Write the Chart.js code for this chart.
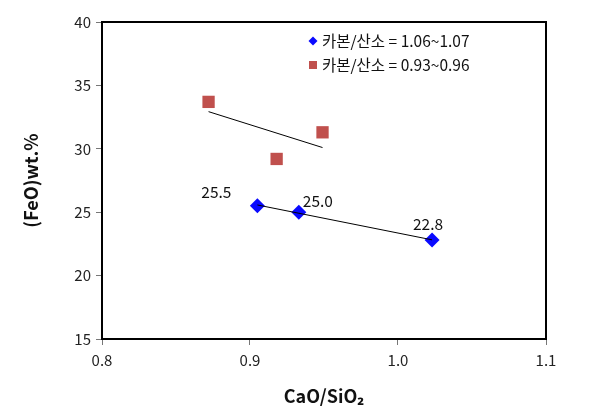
<!DOCTYPE html>
<html>
<head>
<meta charset="utf-8">
<script src="https://cdn.jsdelivr.net/npm/chart.js@4"></script>
<style>
  html, body { margin: 0; padding: 0; background: #fff; }
  #wrap { width: 605px; height: 409px; }
</style>
</head>
<body>
<div id="wrap"><canvas id="chart"></canvas></div>
<script>
// values
const seriesNames = ['카본/산소 = 1.06~1.07', '카본/산소 = 0.93~0.96'];
const blueX = [0.905, 0.933, 1.023];
const blueY = [25.5, 25.0, 22.8];
const redX = [0.872, 0.918, 0.949];
const redY = [33.7, 29.2, 31.3];
// linear trend lines (end points as drawn in the reference)
const blueTrendX = [0.905, 1.023];
const blueTrendY = [25.57, 22.82];
const redTrendX = [0.872, 0.949];
const redTrendY = [32.93, 30.10];
const xTicks = [0.8, 0.9, 1.0, 1.1];
const yTicks = [15, 20, 25, 30, 35, 40];

// label offsets (px) for the blue series values
const labelOffsets = [[-41, -14], [19, -11], [-4, -16]];

const FONT = '"Noto Sans CJK KR", "Noto Sans", sans-serif';
const BLUE = '#0a0aff';
const RED = '#c0504d';

const toPoints = (xs, ys) => xs.map((x, i) => ({ x: x, y: ys[i] }));

// black frame round the plot area
const framePlugin = {
    id: 'frame',
    afterDatasetsDraw(chart) {
        const a = chart.chartArea;
        const ctx = chart.ctx;
        ctx.save();
        ctx.strokeStyle = '#000';
        ctx.lineWidth = 2;
        ctx.strokeRect(a.left, a.top, a.right - a.left, a.bottom - a.top);
        ctx.restore();
    }
};

// value labels on the blue series
const valueLabels = {
    id: 'valueLabels',
    afterDatasetsDraw(chart) {
        const meta = chart.getDatasetMeta(2);
        const ctx = chart.ctx;
        ctx.save();
        ctx.font = '15.5px ' + FONT;
        ctx.fillStyle = '#111';
        ctx.textAlign = 'center';
        ctx.textBaseline = 'middle';
        meta.data.forEach(function(pt, i) {
            const off = labelOffsets[i];
            ctx.fillText(blueY[i].toFixed(1), pt.x + off[0], pt.y + off[1]);
        });
        ctx.restore();
    }
};

// legend drawn inside the plot area
const innerLegend = {
    id: 'innerLegend',
    afterDraw(chart) {
        const a = chart.chartArea;
        const ctx = chart.ctx;
        const mx = a.left + 211;
        const rows = [a.top + 19, a.top + 43];
        ctx.save();
        // diamond
        ctx.fillStyle = BLUE;
        ctx.beginPath();
        ctx.moveTo(mx, rows[0] - 4.5);
        ctx.lineTo(mx + 4.5, rows[0]);
        ctx.lineTo(mx, rows[0] + 4.5);
        ctx.lineTo(mx - 4.5, rows[0]);
        ctx.closePath();
        ctx.fill();
        // square
        ctx.fillStyle = RED;
        ctx.fillRect(mx - 4, rows[1] - 4, 8, 8);
        ctx.font = '15.5px ' + FONT;
        ctx.fillStyle = '#111';
        ctx.textBaseline = 'middle';
        ctx.fillText(seriesNames[0], mx + 9, rows[0]);
        ctx.fillText(seriesNames[1], mx + 9, rows[1]);
        ctx.restore();
    }
};

const tickFont = { family: FONT, size: 15 };
const titleFont = { family: FONT, size: 18, weight: 'bold' };

new Chart(document.getElementById('chart'), {
    type: 'scatter',
    data: {
        datasets: [
            {
                type: 'line',
                data: toPoints(blueTrendX, blueTrendY),
                borderColor: '#000',
                borderWidth: 1,
                pointRadius: 0,
                fill: false
            },
            {
                type: 'line',
                data: toPoints(redTrendX, redTrendY),
                borderColor: '#000',
                borderWidth: 1,
                pointRadius: 0,
                fill: false
            },
            {
                label: seriesNames[0],
                data: toPoints(blueX, blueY),
                pointStyle: 'rectRot',
                pointRadius: 7.5,
                backgroundColor: BLUE,
                borderColor: BLUE,
                borderWidth: 0
            },
            {
                label: seriesNames[1],
                data: toPoints(redX, redY),
                pointStyle: 'rect',
                pointRadius: 8.7,
                backgroundColor: RED,
                borderColor: RED,
                borderWidth: 0
            }
        ]
    },
    options: {
        responsive: true,
        maintainAspectRatio: false,
        animation: false,
        layout: {
            padding: { left: 20, right: 59, top: 22, bottom: 2 }
        },
        plugins: {
            legend: { display: false },
            tooltip: { enabled: false }
        },
        scales: {
            x: {
                type: 'linear',
                min: 0.8,
                max: 1.1,
                afterBuildTicks: function(scale) {
                    scale.ticks = xTicks.map(v => ({ value: v }));
                },
                afterFit: function(scale) {
                    scale.height = 68;
                },
                border: { display: false },
                grid: {
                    drawOnChartArea: false,
                    color: '#777',
                    tickLength: 6
                },
                ticks: {
                    font: tickFont,
                    color: '#222',
                    padding: 6,
                    callback: v => Number(v).toFixed(1)
                },
                title: {
                    display: true,
                    text: 'CaO/SiO₂',
                    font: titleFont,
                    color: '#111',
                    padding: { top: 0, bottom: 0 }
                }
            },
            y: {
                min: 15,
                max: 40,
                afterBuildTicks: function(scale) {
                    scale.ticks = yTicks.map(v => ({ value: v }));
                },
                afterFit: function(scale) {
                    scale.width = 82;
                },
                border: { display: false },
                grid: {
                    drawOnChartArea: false,
                    color: '#777',
                    tickLength: 6
                },
                ticks: {
                    font: tickFont,
                    color: '#222',
                    padding: 5
                },
                title: {
                    display: true,
                    text: '(FeO)wt.%',
                    font: titleFont,
                    color: '#111',
                    padding: { top: 0, bottom: 0 }
                }
            }
        }
    },
    plugins: [framePlugin, valueLabels, innerLegend]
});
</script>
</body>
</html>
